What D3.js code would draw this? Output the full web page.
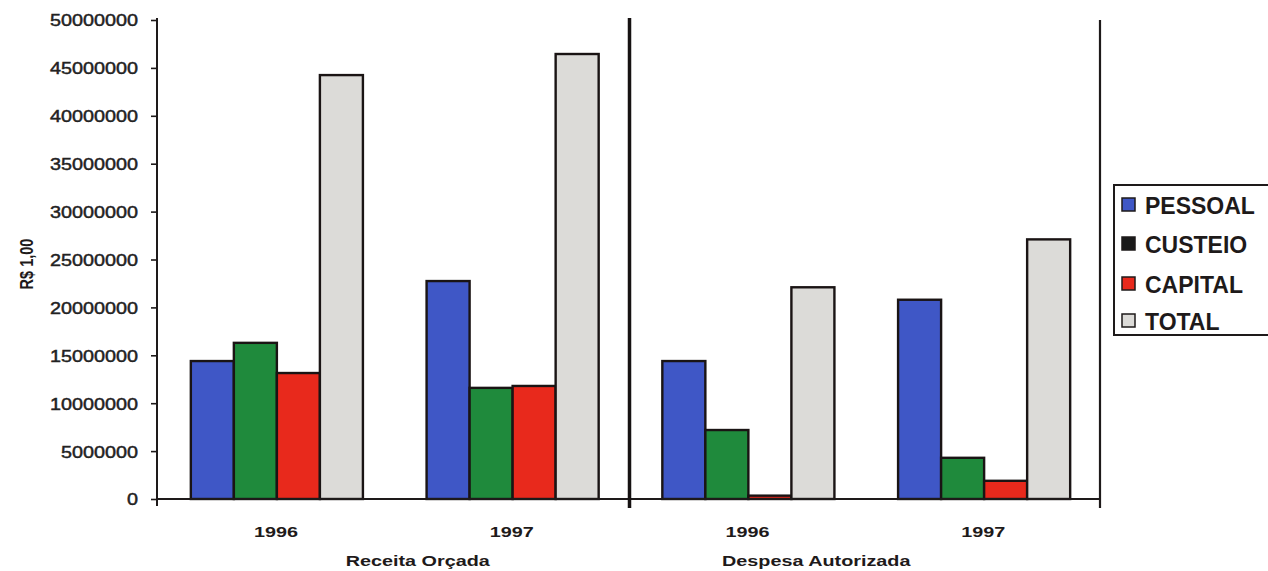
<!DOCTYPE html>
<html>
<head>
<meta charset="utf-8">
<script src="https://cdn.jsdelivr.net/npm/d3@7"></script>
<style>
  html, body { margin: 0; padding: 0; background: #ffffff; }
  svg { display: block; font-family: Arial, "Liberation Sans", sans-serif; }
</style>
</head>
<body>
<svg id="chart" width="1268" height="571"></svg>
<script>
// ---- data ----
const categories = ["R1996", "R1997", "D1996", "D1997"];
const categoryLabels = ["1996", "1997", "1996", "1997"];
const groups = ["Receita Orçada", "Despesa Autorizada"];
const seriesNames = ["PESSOAL", "CUSTEIO", "CAPITAL", "TOTAL"];
const pessoal = [14400000, 22750000, 14400000, 20800000];
const custeio = [16300000, 11600000, 7200000, 4300000];
const capital = [13150000, 11800000, 350000, 1900000];
const total = [44250000, 46450000, 22100000, 27100000];
const yTicks = [0, 5000000, 10000000, 15000000, 20000000, 25000000, 30000000, 35000000, 40000000, 45000000, 50000000];
const yTitle = "R$ 1,00";

const seriesValues = [pessoal, custeio, capital, total];
const barColors = ["#3f57c6", "#1f8a3c", "#e8291c", "#dcdbd8"];
const legendColors = ["#3f57c6", "#1a1a1a", "#e8291c", "#dcdbd8"];

// ---- layout ----
const svg = d3.select("#chart");
const mLeft = 157, mRight = 1100, mTop = 20, mBottom = 499;

const x = d3.scaleBand().domain(categories).range([mLeft, mRight]).padding(0);
const xs = d3.scaleBand().domain(seriesNames).range([0, x.bandwidth()])
  .paddingInner(0).paddingOuter(0.74);
const y = d3.scaleLinear().domain([0, 50000000]).range([mBottom, mTop]);

// bars
const rows = categories.map((c, i) => ({ cat: c, vals: seriesNames.map((s, j) => ({ s, v: seriesValues[j][i], j })) }));
const cg = svg.append("g").selectAll("g").data(rows).join("g")
  .attr("transform", d => `translate(${x(d.cat) + 2},0)`);
cg.selectAll("rect").data(d => d.vals).join("rect")
  .attr("x", d => xs(d.s))
  .attr("y", d => y(d.v))
  .attr("width", xs.bandwidth())
  .attr("height", d => y(0) - y(d.v))
  .attr("fill", d => barColors[d.j])
  .attr("stroke", "#1a1414")
  .attr("stroke-width", 2.4);

// y axis
const yAxis = d3.axisLeft(y).tickValues(yTicks).tickSize(6).tickFormat(d3.format("d"));
const ya = svg.append("g").attr("transform", `translate(${mLeft},0)`).call(yAxis);
ya.select(".domain").attr("stroke", "#1e1a1a").attr("stroke-width", 2).attr("d", `M0,${mTop - 2}V${mBottom + 7}`);
ya.selectAll(".tick line").attr("stroke", "#1e1a1a").attr("stroke-width", 1.6);
const sx = 1.2;
ya.selectAll(".tick text")
  .attr("x", -19 / sx)
  .attr("dy", "0.36em")
  .attr("transform", `scale(${sx},1)`)
  .attr("font-size", 16.5)
  .attr("fill", "#222")
  .attr("stroke", "#222")
  .attr("stroke-width", 0.45)
  .attr("font-family", "Arial, 'Liberation Sans', sans-serif");
// small tick crossing at zero
svg.append("line").attr("x1", mLeft).attr("x2", mLeft + 6).attr("y1", y(0)).attr("y2", y(0))
  .attr("stroke", "#1e1a1a").attr("stroke-width", 1.6);

// x axis baseline
svg.append("line").attr("x1", mLeft).attr("x2", mRight).attr("y1", y(0)).attr("y2", y(0))
  .attr("stroke", "#1e1a1a").attr("stroke-width", 2.2);

// group separator and right border
svg.append("line").attr("x1", x("D1996") + 1).attr("x2", x("D1996") + 1).attr("y1", mTop - 2).attr("y2", mBottom + 9)
  .attr("stroke", "#161212").attr("stroke-width", 3.5);
svg.append("line").attr("x1", mRight).attr("x2", mRight).attr("y1", mTop).attr("y2", mBottom + 9)
  .attr("stroke", "#1e1a1a").attr("stroke-width", 2.2);

// category labels
const csx = 1.32;
svg.append("g").selectAll("text").data(categories).join("text")
  .attr("transform", (d, i) => `translate(${x(d) + x.bandwidth() / 2 + 1},537) scale(${csx},1)`)
  .attr("text-anchor", "middle")
  .attr("font-weight", "bold")
  .attr("font-size", 15)
  .attr("fill", "#1e1a1a")
  .text((d, i) => categoryLabels[i]);

// group labels
const groupCenters = [(x("R1996") + x("R1997") + x.bandwidth()) / 2 + 25, (x("D1996") + x("D1997") + x.bandwidth()) / 2 - 48];
svg.append("g").selectAll("text").data(groups).join("text")
  .attr("transform", (d, i) => `translate(${groupCenters[i]},566) scale(${csx},1)`)
  .attr("text-anchor", "middle")
  .attr("font-weight", "bold")
  .attr("font-size", 15)
  .attr("fill", "#1e1a1a")
  .text(d => d);

// y title
svg.append("text")
  .attr("transform", `translate(33,264) rotate(-90) scale(1,${csx})`)
  .attr("text-anchor", "middle")
  .attr("font-weight", "bold")
  .attr("font-size", 14.5)
  .attr("fill", "#1e1a1a")
  .text(yTitle);

// legend
const lg = svg.append("g");
lg.append("rect").attr("x", 1114).attr("y", 185).attr("width", 160).attr("height", 150)
  .attr("fill", "#fff").attr("stroke", "#1e1a1a").attr("stroke-width", 2);
const rowY = [205, 244, 284, 321];
const li = lg.selectAll("g.item").data(seriesNames).join("g").attr("class", "item")
  .attr("transform", (d, i) => `translate(0,${rowY[i]})`);
li.append("rect").attr("x", 1122).attr("y", -7).attr("width", 13).attr("height", 13)
  .attr("fill", (d, i) => legendColors[i]).attr("stroke", "#1e1a1a").attr("stroke-width", 1.5);
li.append("text").attr("x", 1145).attr("y", 8.5)
  .attr("font-weight", "bold").attr("font-size", 23).attr("fill", "#1e1a1a")
  .text(d => d);
</script>
</body>
</html>
